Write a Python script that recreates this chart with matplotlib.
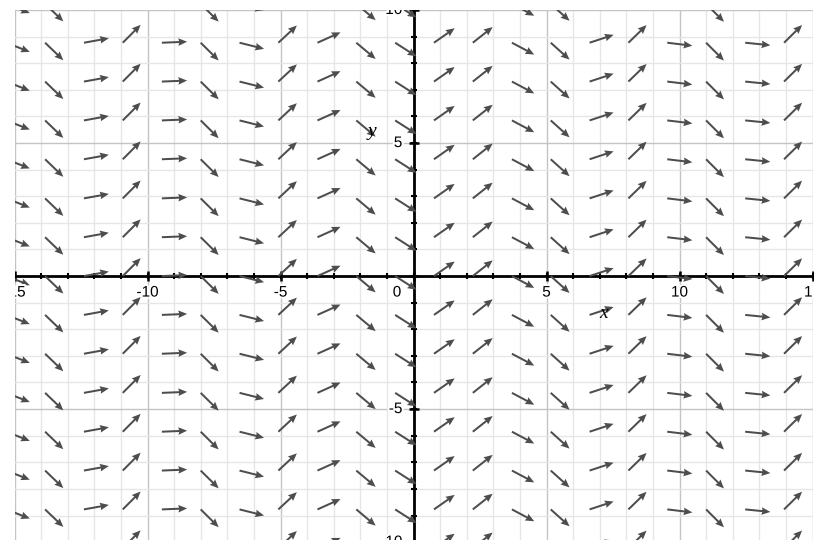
import numpy as np
import matplotlib
matplotlib.use("Agg")
import matplotlib.pyplot as plt
import matplotlib.patheffects as pe

# column positions (x of arrow tails) and slope of the field in each column
cols_x = [-15.31, -13.85, -12.39, -10.93, -9.46, -8.00, -6.54, -5.08, -3.61, -2.15,
          -0.69, 0.77, 2.23, 3.70, 5.16, 6.62, 8.08, 9.54, 11.00, 12.47, 13.93]
col_slope = [-0.39, -0.96, 0.18, 1.00, 0.04, -0.99, -0.25, 0.93, 0.45, -0.84,
             -0.64, 0.70, 0.79, -0.53, -0.90, 0.33, 0.97, -0.12, -1.00, -0.10, 0.98]
# row positions (y of arrow tails)
rows_y = [-10.23, -8.77, -7.31, -5.85, -4.39, -2.92, -1.46, 0.0,
          1.46, 2.92, 4.39, 5.85, 7.31, 8.77, 10.23]

x_ticklabels = [-15, -10, -5, 0, 5, 10, 15]
y_ticklabels = [-10, -5, 5, 10]

arrow_len = 0.95

fig = plt.figure(figsize=(8.26, 5.40), dpi=100)
ax = fig.add_axes([14.5 / 826, 0.0, 798 / 826, 530 / 540])
ax.set_xlim(-15, 15)
ax.set_ylim(-9.92, 10)
ax.set_axis_off()

# grid
for gx in range(-15, 16):
    major = gx % 5 == 0
    ax.axvline(gx, color="#c4c4c4" if major else "#e6e6e6", lw=1.0, zorder=0)
for gy in range(-10, 11):
    major = gy % 5 == 0
    ax.axhline(gy, color="#c4c4c4" if major else "#e6e6e6", lw=1.0, zorder=0)

# axes lines
ax.axhline(0, color="black", lw=2.0, zorder=2)
ax.axvline(0, color="black", lw=2.0, zorder=2)
xt = np.arange(-15, 16)
yt = np.arange(-10, 11)
ax.plot(xt, np.zeros_like(xt), "|", color="black", ms=4.5, mew=1.5, zorder=2)
ax.plot(np.zeros_like(yt), yt, "_", color="black", ms=4.5, mew=1.5, zorder=2)
m5x = xt[xt % 5 == 0]
m5y = yt[yt % 5 == 0]
ax.plot(m5x, np.zeros_like(m5x), "|", color="black", ms=7, mew=1.8, zorder=2)
ax.plot(np.zeros_like(m5y), m5y, "_", color="black", ms=7, mew=1.8, zorder=2)

# arrows
X, Y = np.meshgrid(cols_x, rows_y)
S = np.tile(np.array(col_slope), (len(rows_y), 1))
ang = np.arctan(S)
U = arrow_len * np.cos(ang)
V = arrow_len * np.sin(ang)
ax.quiver(X, Y, U, V, angles="xy", scale_units="xy", scale=1,
          units="dots", width=2.0, headwidth=3.8, headlength=4.4,
          headaxislength=4.0, color="#4d4d4d", zorder=3)

# tick labels (clipped by the graph area like the reference)
halo = [pe.withStroke(linewidth=3, foreground="white")]
lab_font = dict(family="Liberation Sans", size=11, color="black")
for v in x_ticklabels:
    xpos = -0.62 if v == 0 else v
    t = ax.text(xpos, -0.62, str(v), ha="center", va="center", zorder=4,
                clip_on=True, **lab_font)
    t.set_path_effects(halo)
for v in y_ticklabels:
    t = ax.text(-0.42, v, str(v), ha="right", va="center", zorder=4,
                clip_on=True, **lab_font)
    t.set_path_effects(halo)

# axis names
ax.text(7.14, -1.40, "x", ha="center", va="center", family="Liberation Serif",
        style="italic", size=14, zorder=4)
ax.text(-1.56, 5.45, "y", ha="center", va="center", family="Liberation Serif",
        style="italic", size=14, zorder=4)

fig.savefig("out.png", dpi=100)
